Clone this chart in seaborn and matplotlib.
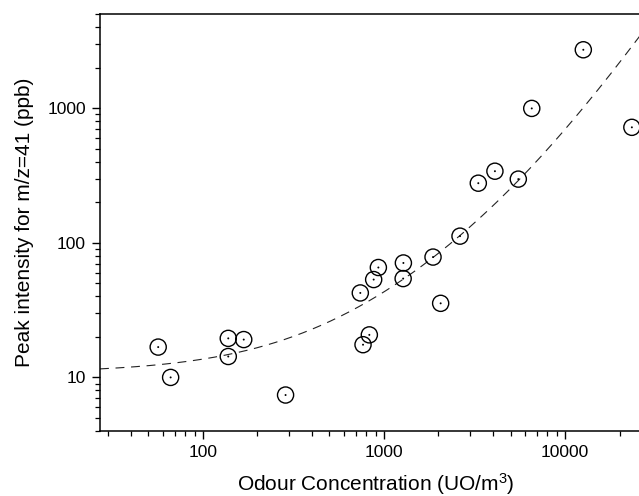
import numpy as np
import pandas as pd
import matplotlib
matplotlib.use("Agg")
import matplotlib.pyplot as plt
import matplotlib.ticker as mticker
import seaborn as sns

# values
odour = [56.6, 66.3, 138, 138, 168, 286, 740, 766, 830, 877, 931,
         1280, 1276, 1866, 2056, 2630, 3319, 4100, 5520, 6550, 12620, 23400]
peak = [16.8, 10.0, 19.5, 14.3, 19.1, 7.4, 42.4, 17.5, 20.7, 53.3, 65.5,
        70.8, 54.2, 78.3, 35.5, 112, 277, 340, 297, 995, 2712, 720]

# polynomial fit (y = a + b*x + c*x^2) as drawn in the reference
fit_a = 10.8
fit_b = 0.0284
fit_c = 4.01e-6

sns.set_style("ticks")
plt.rcParams['font.family'] = ['Liberation Sans', 'DejaVu Sans']
plt.rcParams['mathtext.fontset'] = 'custom'
plt.rcParams['mathtext.rm'] = 'Liberation Sans'
plt.rcParams['text.color'] = 'black'
plt.rcParams['axes.labelcolor'] = 'black'
plt.rcParams['xtick.color'] = 'black'
plt.rcParams['ytick.color'] = 'black'

df = pd.DataFrame({'odour': odour, 'peak': peak})
fit_x = np.geomspace(27, 30000, 300)
fit = pd.DataFrame({'x': fit_x, 'y': fit_a + fit_b * fit_x + fit_c * fit_x ** 2})

fig = plt.figure(figsize=(6.39, 4.96), dpi=100)
ax = fig.add_axes([100 / 639, 1 - 431 / 496, 551.4 / 639, 417 / 496])

sns.lineplot(data=fit, x='x', y='y', ax=ax, color='#222222', lw=0.8,
             dashes=False, linestyle=(0, (8, 6)), zorder=2)
sns.scatterplot(data=df, x='odour', y='peak', ax=ax, s=135, marker='o',
                facecolors='none', edgecolor='black', linewidth=1.0, zorder=3)
sns.scatterplot(data=df, x='odour', y='peak', ax=ax, s=2, color='black',
                edgecolor='none', zorder=4)

ax.set_xscale('log')
ax.set_yscale('log')
ax.set_xlim(27, 30000)
ax.set_ylim(4, 5000)

fmt = mticker.FuncFormatter(lambda v, p: f"{v:g}")
ax.xaxis.set_major_formatter(fmt)
ax.yaxis.set_major_formatter(fmt)
ax.xaxis.set_minor_formatter(mticker.NullFormatter())
ax.yaxis.set_minor_formatter(mticker.NullFormatter())

ax.tick_params(which='major', direction='out', length=6, width=1.0,
               labelsize=12.5, color='black', labelcolor='black', pad=4)
ax.tick_params(which='minor', direction='out', length=3.5, width=0.9, color='black')
ax.tick_params(top=False, right=False, which='both')

for sp in ax.spines.values():
    sp.set_linewidth(1.1)
    sp.set_color('black')

ax.set_xlabel('Odour Concentration (UO/m$\\mathregular{^3}$)', fontsize=15,
              labelpad=8, color='black')
ax.set_ylabel('Peak intensity for m/z=41 (ppb)', fontsize=15, labelpad=10,
              color='black')

fig.savefig('out.png', dpi=100)
